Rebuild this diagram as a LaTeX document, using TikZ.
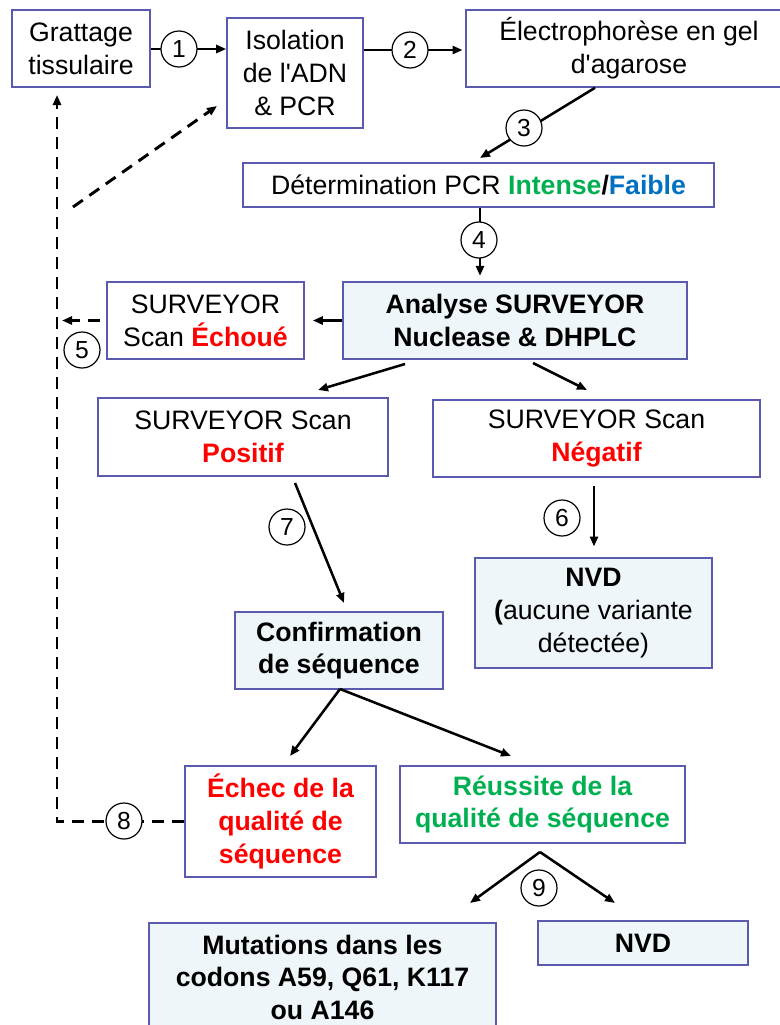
\documentclass[tikz,border=0pt]{standalone}
\usepackage{fontspec}
\setmainfont{Liberation Sans}
\usetikzlibrary{arrows.meta}
\definecolor{bord}{RGB}{90,90,175}
\definecolor{fillb}{RGB}{239,246,249}
\definecolor{rd}{RGB}{255,0,0}
\definecolor{gr}{RGB}{0,176,80}
\definecolor{bl}{RGB}{0,112,192}
\begin{document}
\begin{tikzpicture}[x=0.75pt,y=-0.75pt,
  every node/.style={font=\fontsize{20}{24.5}\selectfont, align=center},
  bff/.style={font=\fontsize{20}{24.5}\selectfont\bfseries},
  box/.style={draw=bord, line width=1.2pt, inner sep=0pt, rectangle},
  fbox/.style={box, fill=fillb},
  sz/.style 2 args={minimum width=#1*0.75pt, minimum height=#2*0.75pt},
  num/.style={circle, draw=black, line width=0.9pt, fill=white, inner sep=0pt, minimum size=27pt, font=\fontsize{18.5}{20}\selectfont},
  arr/.style={line width=1.9pt, -{Triangle[length=7.5pt,width=6pt]}},
  ln/.style={line width=1.9pt},
  dsh/.style={line width=2.2pt, dash pattern=on 9pt off 6pt},
  darr/.style={dsh, -{Triangle[length=7.5pt,width=6pt]}},
]
\useasboundingbox (0,0) rectangle (779,1025);
% boxes
\node[box, sz={138}{77}] (A) at (81,48.5) {Grattage\\tissulaire};
\node[box, sz={136}{110}] (B) at (295,73) {Isolation\\de l\textquotesingle ADN\\\& PCR};
\node[box, sz={326}{77}] (C) at (629,48.5) {Électrophorèse en gel\\d\textquotesingle agarose};
\node[box, sz={471}{44}] (D) at (478.5,185) {Détermination PCR \textcolor{gr}{\textbf{Intense}}\textbf{/}\textcolor{bl}{\textbf{Faible}}};
\node[fbox, bff, sz={344}{77}] (E) at (515,320.5) {Analyse SURVEYOR\\Nuclease \& DHPLC};
\node[box, sz={197}{77}] (F) at (205.5,320.5) {SURVEYOR\\Scan \textcolor{rd}{\textbf{Échoué}}};
\node[box, sz={290}{78}] (G) at (243,437) {SURVEYOR Scan\\\textcolor{rd}{\textbf{Positif}}};
\node[box, sz={327}{77}] (H) at (596.5,438.5) {SURVEYOR Scan\\\textcolor{rd}{\textbf{Négatif}}};
\node[fbox, sz={237}{110}] (I) at (593.5,613) {\textbf{NVD}\\\textbf{(}aucune variante\\détectée)};
\node[fbox, bff, sz={208}{77}] (J) at (339,650.5) {Confirmation\\de séquence};
\node[box, bff, text=rd, sz={191}{111}] (K) at (280.5,821.5) {Échec de la\\qualité de\\séquence};
\node[box, bff, text=gr, sz={285}{77}] (L) at (542.5,804.5) {Réussite de la\\qualité de séquence};
\node[fbox, bff, minimum width=347*0.75pt, inner ysep=9pt, anchor=north] (M) at (322.5,922) {Mutations dans les\\codons A59, Q61, K117\\ou A146};
\node[fbox, bff, sz={210}{44}] (N) at (643,943) {NVD};
% circle centres
\coordinate (c1) at (179,49);
\coordinate (c2) at (410,50);
\coordinate (c3) at (524,128);
\coordinate (c4) at (479,240);
\coordinate (c5) at (82,350);
\coordinate (c6) at (562,518);
\coordinate (c7) at (287,527);
\coordinate (c8) at (124,821);
\coordinate (c9) at (539,888);
% helper coordinates
\coordinate (v57) at (57,0);
\coordinate (x480) at (480,0);
\coordinate (x595) at (595,0);
\coordinate (x62) at (62,0);
\coordinate (p3e) at (480,158);
\coordinate (dtop) at (57,95);
\coordinate (dgs) at (73,207);
\coordinate (dge) at (217,106);
\coordinate (pGs) at (405,364);
\coordinate (pGe) at (318,390);
\coordinate (pHs) at (533,363);
\coordinate (pHe) at (587,390);
\coordinate (x594) at (594,0);
\coordinate (p7s) at (295,483);
\coordinate (p7e) at (344,603);
\coordinate (pJs) at (340,689);
\coordinate (pKe) at (290,756);
\coordinate (pLe) at (511,756);
\coordinate (pLs) at (540,852);
\coordinate (pMe) at (470,903);
\coordinate (pNe) at (615,903);
% connectors
\draw[ln] (A.east |- c1) -- (c1);
\draw[arr] (c1) -- (B.west |- c1);
\draw[ln] (B.east |- c2) -- (c2);
\draw[arr, shorten >=2pt] (c2) -- (C.west |- c2);
\draw[arr] (C.south -| x595) -- (p3e);
\draw[arr, shorten >=4pt] (D.south -| x480) -- (E.north -| x480);
\draw[arr, shorten >=6pt] (E.west) -- (F.east);
\draw[darr, shorten <=5pt] (F.west) -- (F.west -| x62);
\draw[darr] (K.west) -- (K.west -| v57) -- (dtop);
\draw[darr] (dgs) -- (dge);
\draw[arr] (pGs) -- (pGe);
\draw[arr] (pHs) -- (pHe);
\draw[arr, shorten <=6pt, shorten >=8pt] (H.south -| x594) -- (I.north -| x594);
\draw[arr] (p7s) -- (p7e);
\draw[arr] (pJs) -- (pKe);
\draw[arr] (pJs) -- (pLe);
\draw[arr] (pLs) -- (pMe);
\draw[arr] (pLs) -- (pNe);
% numbered circles
\node[num] (n1) at (c1) {1};
\node[num] (n2) at (c2) {2};
\node[num] (n3) at (c3) {3};
\node[num] (n4) at (c4) {4};
\node[num] (n5) at (c5) {5};
\node[num] (n6) at (c6) {6};
\node[num] (n7) at (c7) {7};
\node[num] (n8) at (c8) {8};
\node[num] (n9) at (c9) {9};
\end{tikzpicture}
\end{document}
